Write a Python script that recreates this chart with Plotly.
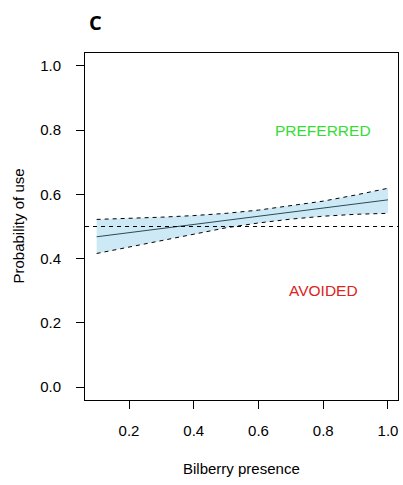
import plotly.graph_objects as go

bilberry = [0.1, 0.2, 0.3, 0.4, 0.5, 0.6, 0.7, 0.8, 0.9, 1.0]
fit = [0.468, 0.481, 0.494, 0.507, 0.519, 0.532, 0.545, 0.557, 0.570, 0.583]
upper = [0.522, 0.525, 0.529, 0.534, 0.541, 0.551, 0.564, 0.579, 0.598, 0.619]
lower = [0.416, 0.436, 0.456, 0.476, 0.496, 0.511, 0.523, 0.532, 0.538, 0.541]
x_ticks = [0.2, 0.4, 0.6, 0.8, 1.0]
y_ticks = [0.0, 0.2, 0.4, 0.6, 0.8, 1.0]
threshold = 0.5
labels = [("PREFERRED", 0.8, 0.8, "#33dd33"), ("AVOIDED", 0.8, 0.3, "#dd2222")]

FONT = "Liberation Sans, Arial, sans-serif"
DASH = "4px,4px"

fig = go.Figure()
fig.add_trace(go.Scatter(x=bilberry + bilberry[::-1], y=upper + lower[::-1],
                         fill="toself", fillcolor="#cde9f5", line=dict(width=0),
                         mode="lines", hoverinfo="skip", showlegend=False))
fig.add_trace(go.Scatter(x=bilberry, y=upper, mode="lines",
                         line=dict(color="black", width=1, dash=DASH), showlegend=False))
fig.add_trace(go.Scatter(x=bilberry, y=lower, mode="lines",
                         line=dict(color="black", width=1, dash=DASH), showlegend=False))
fig.add_trace(go.Scatter(x=bilberry, y=fit, mode="lines",
                         line=dict(color="#2a4a58", width=1), showlegend=False))
fig.add_hline(y=threshold, line=dict(color="black", width=1, dash=DASH))

for txt, xv, yv, col in labels:
    fig.add_annotation(x=xv, y=yv, text=txt, showarrow=False,
                       font=dict(family=FONT, size=15.5, color=col))

fig.add_annotation(xref="paper", yref="paper", x=0.006, y=1.0, yshift=31,
                   text="<b>C</b>", showarrow=False, xanchor="left", yanchor="middle",
                   font=dict(family="Open Sans, DejaVu Sans, sans-serif", size=20, color="black"))
fig.add_annotation(xref="paper", yref="paper", x=0.5, y=0, yshift=-68,
                   text="Bilberry presence", showarrow=False, xanchor="center", yanchor="middle",
                   font=dict(family=FONT, size=15, color="black"))
fig.add_annotation(xref="paper", yref="paper", x=0, xshift=-67, y=0.5,
                   text="Probability of use", showarrow=False, textangle=-90,
                   xanchor="center", yanchor="middle",
                   font=dict(family=FONT, size=15, color="black"))

fig.update_layout(
    width=403, height=485,
    margin=dict(l=85, r=5, t=53, b=85),
    plot_bgcolor="white", paper_bgcolor="white",
    font=dict(family=FONT, size=15, color="black"),
    xaxis=dict(range=[0.064, 1.031], tickvals=x_ticks, ticktext=[f"{v:.1f}" for v in x_ticks],
               showgrid=False, zeroline=False, showline=True, mirror=True,
               linecolor="black", linewidth=1, ticks="outside", ticklen=8,
               tickcolor="black", ticklabelstandoff=9),
    yaxis=dict(range=[-0.04, 1.04], tickvals=y_ticks, ticktext=[f"{v:.1f}" for v in y_ticks],
               showgrid=False, zeroline=False, showline=True, mirror=True,
               linecolor="black", linewidth=1, ticks="outside", ticklen=8,
               tickcolor="black", ticklabelstandoff=12),
)

fig.write_html("out.html")
